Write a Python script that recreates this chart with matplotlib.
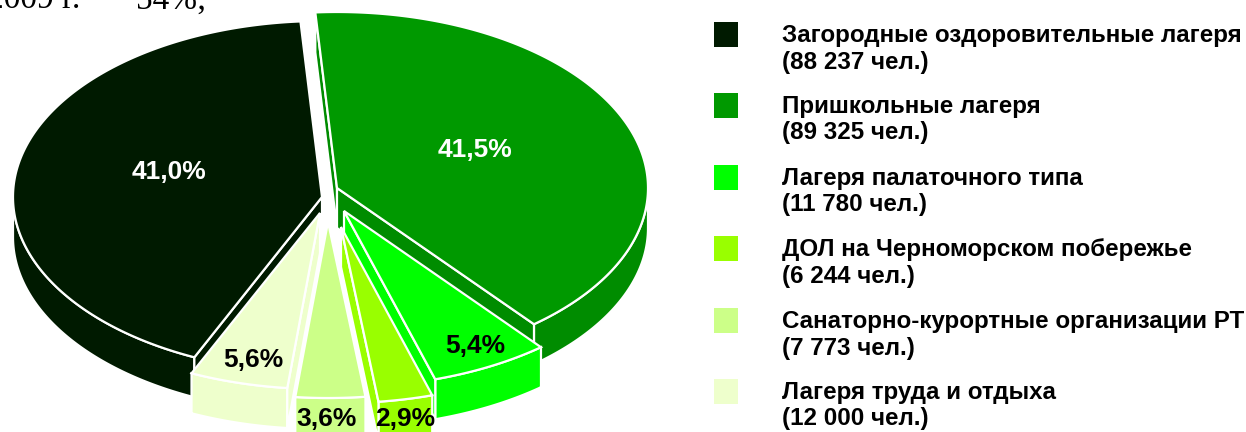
#!/usr/bin/python3

import numpy as np
import matplotlib
matplotlib.use("Agg")
import matplotlib.pyplot as plt

# chart data
names = ["Загородные оздоровительные лагеря", "Пришкольные лагеря",
         "Лагеря палаточного типа", "ДОЛ на Черноморском побережье",
         "Санаторно-курортные организации РТ", "Лагеря труда и отдыха"]
counts = ["88 237", "89 325", "11 780", "6 244", "7 773", "12 000"]
percents = [41.0, 41.5, 5.4, 2.9, 3.6, 5.6]
percent_labels = ["41,0%", "41,5%", "5,4%", "2,9%", "3,6%", "5,6%"]

# styles
top_colors = ["#001a00", "#009900", "#00ff00", "#99ff00", "#ccff88", "#eeffcc"]
side_colors = ["#001a00", "#008c00", "#00ff00", "#99ff00", "#ccff88", "#eeffcc"]
label_colors = ["white", "white", "black", "black", "black", "black"]
label_pos = [(169, 172), (475, 150), (475, 346), (405, 419), (327, 419), (253, 360)]

# pie layout in pixels, each slice has its own exploded apex
apex = [(322, 197), (337, 188), (344, 211), (341, 227), (328, 222), (320, 213)]
slice_rx = [309, 311, 311, 311, 311, 311]
ry, depth = 176, 40
start_angle = 94.0
# the picture has some perspective, slice ends do not sit exactly at their share
end_nudge = [0.0, 4.7, 1.9, 2.2, 2.2, 4.0]
draw_order = [0, 1, 2, 3, 5, 4]

legend_tops = [22, 93, 165, 236, 308, 379]


def arc(center, rx, t0, t1):
    t = np.radians(np.linspace(t0, t1, 200))
    return center[0] + rx * np.cos(t), center[1] - ry * np.sin(t)


def draw_face(ax, xs, ys, color, z):
    ax.fill(xs, ys, facecolor=color, edgecolor="white", linewidth=1.6,
            joinstyle="miter", zorder=z)


def draw_slice(ax, i, t0, t1, z):
    # t1 < t0, slices run clockwise
    cx, cy = apex[i]
    rx = slice_rx[i]
    side = side_colors[i]

    # outer wall, only the front half of the ellipse shows
    for k in range(-1, 2):
        lo = max(t1, 180 + 360 * k)
        hi = min(t0, 360 + 360 * k)
        if lo < hi:
            xs, ys = arc((cx, cy), rx, hi, lo)
            draw_face(ax, np.r_[xs, xs[::-1]], np.r_[ys, ys[::-1] + depth], side, z)

    # cut faces turned to the viewer
    for t, sign in ((t0, 1), (t1, -1)):
        a = np.radians(t)
        if sign * np.cos(a) < 0:
            x1 = cx + rx * np.cos(a)
            y1 = cy - ry * np.sin(a)
            draw_face(ax, [cx, x1, x1, cx], [cy, y1, y1 + depth, cy + depth], side, z)

    # top surface
    xs, ys = arc((cx, cy), rx, t0, t1)
    draw_face(ax, np.r_[cx, xs], np.r_[cy, ys], top_colors[i], z + 0.5)


fig = plt.figure(figsize=(12.46, 4.32), dpi=100)
ax = fig.add_axes([0, 0, 1, 1])
ax.set_xlim(0, 1246)
ax.set_ylim(432, 0)
ax.axis("off")

# slice boundaries, clockwise from the start angle, second slice comes first
angles = {}
prev = start_angle
for i in [1, 2, 3, 4, 5]:
    end = start_angle - sum(percents[1:i + 1]) * 3.6 + end_nudge[i]
    angles[i] = (prev, end)
    prev = end
angles[0] = (prev, start_angle - 360.0)

for z, i in enumerate(draw_order):
    draw_slice(ax, i, angles[i][0], angles[i][1], 2 + z)

for i, lab in enumerate(percent_labels):
    ax.text(label_pos[i][0], label_pos[i][1], lab, color=label_colors[i],
            family="Liberation Sans", fontweight="bold", fontsize=19,
            ha="center", va="center", zorder=20)

# legend
for i, name in enumerate(names):
    top = legend_tops[i]
    ax.add_patch(plt.Rectangle((714, top), 24, 25, facecolor=top_colors[i],
                               edgecolor="none", zorder=3))
    ax.text(782, top + 20, name, family="Liberation Sans", fontweight="bold",
            fontsize=17.35, color="black", ha="left", va="baseline")
    ax.text(782, top + 46.5, "(" + counts[i] + " чел.)", family="Liberation Sans",
            fontweight="bold", fontsize=17.35, color="black", ha="left", va="baseline")

# cut-off line of body text above the figure, justified so in two pieces
ax.text(-13, 8.5, "2009 г.", family="Liberation Serif", fontsize=24,
        color="black", ha="left", va="baseline")
ax.text(206, 8.5, "54%;", family="Liberation Serif", fontsize=24,
        color="black", ha="right", va="baseline")

fig.savefig("out.png", dpi=100)
plt.close(fig)
